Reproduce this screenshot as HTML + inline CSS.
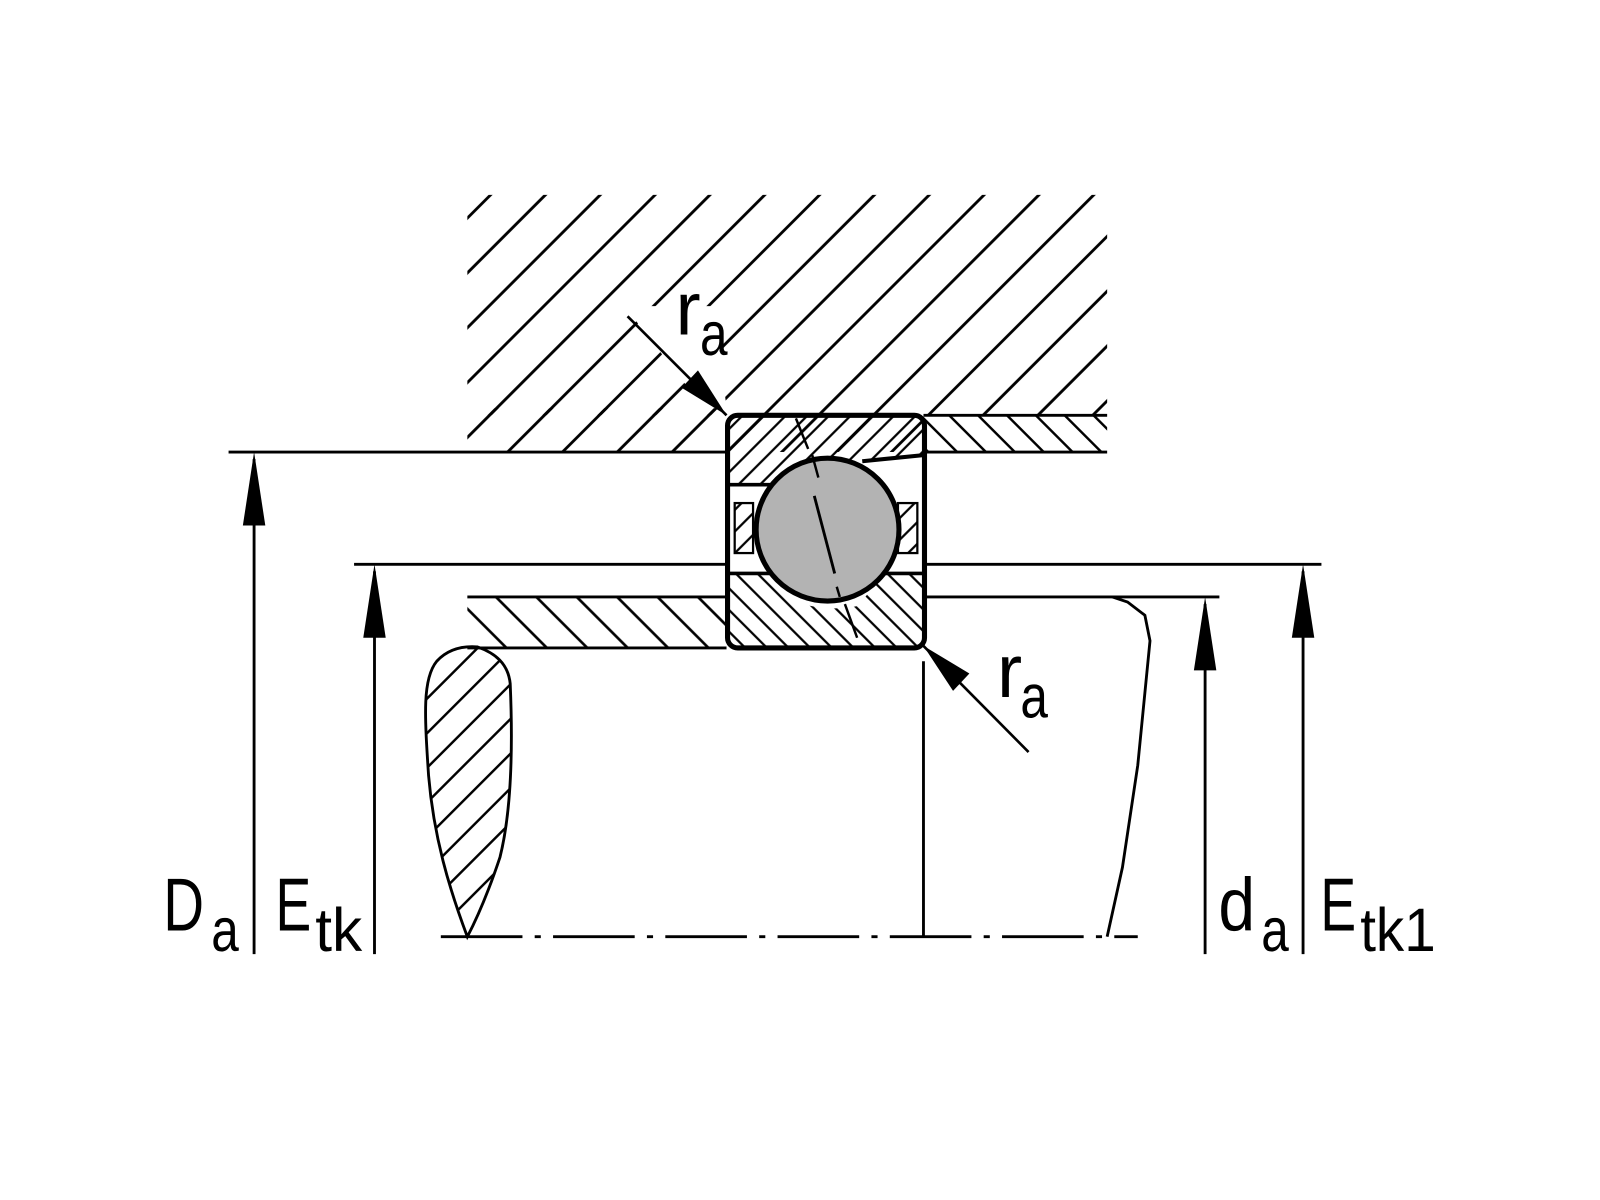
<!DOCTYPE html>
<html><head><meta charset="utf-8"><style>html,body{margin:0;padding:0;background:#fff}svg{display:block}</style></head>
<body>
<svg width="1600" height="1200" viewBox="0 0 1568 1176" xmlns="http://www.w3.org/2000/svg">
<defs>
<pattern id="hBig" patternUnits="userSpaceOnUse" width="38" height="38" patternTransform="rotate(45)">
<line x1="19" y1="0" x2="19" y2="38" stroke="#000" stroke-width="2.8"/></pattern>
<pattern id="hBack" patternUnits="userSpaceOnUse" width="20" height="20" patternTransform="rotate(-45)">
<line x1="10" y1="0" x2="10" y2="20" stroke="#000" stroke-width="2.4"/></pattern>
<pattern id="hShaft" patternUnits="userSpaceOnUse" width="28" height="28" patternTransform="rotate(-45)">
<line x1="14" y1="0" x2="14" y2="28" stroke="#000" stroke-width="2.6"/></pattern>
<pattern id="hRing" patternUnits="userSpaceOnUse" width="15" height="15" patternTransform="rotate(45)">
<line x1="7.5" y1="0" x2="7.5" y2="15" stroke="#000" stroke-width="2.2"/></pattern>
<pattern id="hRing2" patternUnits="userSpaceOnUse" width="15" height="15" patternTransform="rotate(-45)">
<line x1="7.5" y1="0" x2="7.5" y2="15" stroke="#000" stroke-width="2.2"/></pattern>
<pattern id="hDrop" patternUnits="userSpaceOnUse" width="24" height="24" patternTransform="rotate(45)">
<line x1="12" y1="0" x2="12" y2="24" stroke="#000" stroke-width="2.4"/></pattern>
</defs>
<g fill="none" stroke="#000" stroke-width="2.8">
<path d="M458,191 H1085 V407 H905 V443 H712 V407 H458 Z" fill="url(#hBig)" stroke="none"/>
<rect x="458" y="400" width="254" height="43" fill="url(#hBig)" stroke="none"/>
<polygon points="612,300 700,300 712,400 690,400" fill="#fff" stroke="none"/>
<rect x="905" y="407" width="180" height="36" fill="#fff" stroke="none"/>
<rect x="905" y="407" width="180" height="36" fill="url(#hBack)" stroke="none"/>
<line x1="905" y1="407" x2="1085" y2="407"/>
<line x1="224" y1="443" x2="712" y2="443"/>
<line x1="905" y1="443" x2="1085" y2="443"/>
<rect x="458" y="585" width="254" height="50" fill="url(#hShaft)" stroke="none"/>
<line x1="458" y1="585" x2="712" y2="585"/>
<line x1="458" y1="635" x2="712" y2="635"/>
<line x1="905" y1="585" x2="1195" y2="585"/>
<line x1="347" y1="553" x2="712" y2="553"/>
<line x1="905" y1="553" x2="1295" y2="553"/>
<path d="M714,407 H905 V446 L842,452 Q815,450 790,460 L758,475 H714 Z" fill="url(#hRing)" stroke="none"/>
<path d="M714,562 H758 L780,590 Q810,600 840,594 L868,562 H905 V635 H714 Z" fill="url(#hRing2)" stroke="none"/>
<rect x="720" y="493" width="18" height="49" fill="url(#hRing)" stroke-width="2.2"/>
<rect x="880" y="493" width="19" height="49" fill="url(#hRing)" stroke-width="2.2"/>
<line x1="714" y1="475" x2="760" y2="475" stroke-width="3.5"/>
<line x1="714" y1="562" x2="760" y2="562" stroke-width="3.5"/>
<line x1="862" y1="562" x2="905" y2="562" stroke-width="3.5"/>
<path d="M845,452 L905,446" stroke-width="4"/>
<circle cx="811" cy="519" r="70" fill="#b3b3b3" stroke-width="5"/>
<line x1="796" y1="446" x2="802" y2="468" stroke-width="2.4"/>
<line x1="798" y1="486" x2="818" y2="562" stroke-width="2.8"/>
<line x1="820" y1="575" x2="823" y2="585" stroke-width="2.4"/>
<line x1="780" y1="410" x2="792" y2="440" stroke-width="2.4"/>
<line x1="828" y1="592" x2="840" y2="625" stroke-width="2.4"/>
<rect x="713" y="407" width="193" height="228" rx="10" stroke-width="5"/>
<line x1="615" y1="310" x2="712" y2="407" stroke-width="2.6"/>
<polygon points="712,407 668,380 684,363" fill="#000" stroke="none"/>
<line x1="1008" y1="737" x2="905" y2="633" stroke-width="2.6"/>
<polygon points="905,633 950,660 934,677" fill="#000" stroke="none"/>
<line x1="905" y1="648" x2="905" y2="918"/>
<line x1="432" y1="918" x2="1115" y2="918" stroke-dasharray="80,12,6,12"/>
<path d="M458,918 C440,870 425,820 420,760 C416,700 414,665 428,648 C440,635 455,633 468,634 C485,640 498,650 500,670 C503,740 500,800 490,840 C480,870 470,895 458,918 Z" fill="url(#hDrop)"/>
<path d="M1085,918 L1100,850 L1115,750 L1127,628 L1122,603 L1105,590 L1090,585"/>
<line x1="249" y1="450" x2="249" y2="935"/>
<line x1="367" y1="560" x2="367" y2="935"/>
<line x1="1181" y1="592" x2="1181" y2="935"/>
<line x1="1277" y1="560" x2="1277" y2="935"/>
</g>
<g fill="#000">
<polygon points="249,443 238,515 260,515"/>
<polygon points="367,553 356,625 378,625"/>
<polygon points="1181,585 1170,657 1192,657"/>
<polygon points="1277,553 1266,625 1288,625"/>
</g>
<g font-family="'Liberation Sans',sans-serif" fill="#000">
<text x="160" y="912" font-size="74" textLength="40" lengthAdjust="spacingAndGlyphs">D</text>
<text x="207" y="932" font-size="60" textLength="27" lengthAdjust="spacingAndGlyphs">a</text>
<text x="270" y="912" font-size="74" textLength="35" lengthAdjust="spacingAndGlyphs">E</text>
<text x="309" y="932" font-size="60" textLength="46" lengthAdjust="spacingAndGlyphs">tk</text>
<text x="1194" y="912" font-size="74" textLength="36" lengthAdjust="spacingAndGlyphs">d</text>
<text x="1236" y="932" font-size="60" textLength="27" lengthAdjust="spacingAndGlyphs">a</text>
<text x="1294" y="912" font-size="74" textLength="35" lengthAdjust="spacingAndGlyphs">E</text>
<text x="1333" y="932" font-size="60" textLength="74" lengthAdjust="spacingAndGlyphs">tk1</text>
<text x="662" y="328" font-size="74">r</text>
<text x="686" y="348" font-size="60" textLength="27" lengthAdjust="spacingAndGlyphs">a</text>
<text x="977" y="683" font-size="74">r</text>
<text x="1000" y="703" font-size="60" textLength="27" lengthAdjust="spacingAndGlyphs">a</text>
</g>
</svg>
</body></html>
